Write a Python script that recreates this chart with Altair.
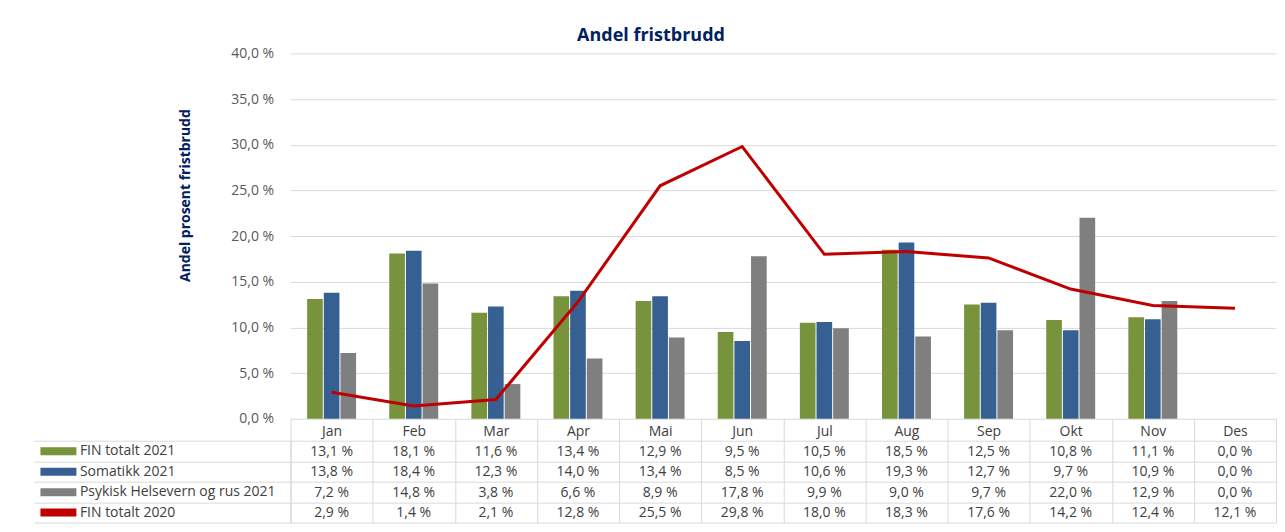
import altair as alt
import pandas as pd

months = ["Jan", "Feb", "Mar", "Apr", "Mai", "Jun", "Jul", "Aug", "Sep", "Okt", "Nov", "Des"]
series_names = ["FIN totalt 2021", "Somatikk 2021", "Psykisk Helsevern og rus 2021", "FIN totalt 2020"]
fin_2021 = [13.1, 18.1, 11.6, 13.4, 12.9, 9.5, 10.5, 18.5, 12.5, 10.8, 11.1, 0.0]
somatikk_2021 = [13.8, 18.4, 12.3, 14.0, 13.4, 8.5, 10.6, 19.3, 12.7, 9.7, 10.9, 0.0]
psyk_2021 = [7.2, 14.8, 3.8, 6.6, 8.9, 17.8, 9.9, 9.0, 9.7, 22.0, 12.9, 0.0]
fin_2020 = [2.9, 1.4, 2.1, 12.8, 25.5, 29.8, 18.0, 18.3, 17.6, 14.2, 12.4, 12.1]
series_colors = ["#77933C", "#376092", "#7F7F7F", "#C00000"]
y_ticks = [0, 5, 10, 15, 20, 25, 30, 35, 40]

rows = []
for name, vals in zip(series_names, [fin_2021, somatikk_2021, psyk_2021, fin_2020]):
    for m, v in zip(months, vals):
        rows.append({"series": name, "month": m, "value": v,
                     "label": f"{v:.1f} %".replace(".", ",")})
df = pd.DataFrame(rows)
bars_df = df[df.series != "FIN totalt 2020"]
line_df = df[df.series == "FIN totalt 2020"]

FONT = "Open Sans"
GRID = "#D9D9D9"
NAVY = "#002060"
TXT = "#404040"

x_top = alt.X("month:N", sort=months, axis=None,
              scale=alt.Scale(paddingInner=0.404, paddingOuter=0.202))
y_top = alt.Y("value:Q", scale=alt.Scale(domain=[0, 40]),
              axis=alt.Axis(values=y_ticks,
                            labelExpr="replace(format(datum.value, '.1f'), '.', ',') + ' %'",
                            grid=True, gridColor=GRID, domain=False, ticks=False,
                            labelPadding=17, labelFontSize=14, labelColor="#595959",
                            title="Andel prosent fristbrudd", titleFontSize=14,
                            titleFontWeight="bold", titleColor=NAVY,
                            titleX=-105, titleY=142, titleAlign="center",
                            titleBaseline="middle", titleAngle=270))

bars = alt.Chart(bars_df).mark_bar().encode(
    x=x_top,
    xOffset=alt.XOffset("series:N", sort=series_names[:3],
                        scale=alt.Scale(paddingInner=0.06, paddingOuter=0)),
    y=y_top,
    color=alt.Color("series:N",
                    scale=alt.Scale(domain=series_names, range=series_colors),
                    legend=alt.Legend(orient="none", legendX=-239.5, legendY=391.5,
                                      title=None, padding=0,
                                      symbolType="M-4.5,-1H4.5V1H-4.5Z", symbolSize=64,
                                      symbolStrokeWidth=0, symbolOpacity=1,
                                      labelOffset=14.5, labelFontSize=14,
                                      labelColor=TXT, labelLimit=400,
                                      rowPadding=6.5)),
)

line = alt.Chart(line_df).mark_line(color="#C00000", strokeWidth=3).encode(
    x=x_top, y=y_top)

top = alt.layer(bars, line).properties(width=987, height=366)

table_x = alt.X("month:N", sort=months,
                scale=alt.Scale(paddingInner=0, paddingOuter=0),
                axis=alt.Axis(orient="top", title=None, tickBand="extent", tickSize=22,
                              tickColor=GRID, domain=False, grid=True, gridColor=GRID,
                              labelPadding=-13, labelBaseline="middle", labelAngle=0,
                              labelFontSize=14, labelColor=TXT))
table_y = alt.Y("series:N", sort=series_names,
                scale=alt.Scale(paddingInner=0, paddingOuter=0),
                axis=alt.Axis(title=None, labels=False, tickBand="extent", tickSize=257,
                              tickColor=GRID, domain=False, grid=True, gridColor=GRID))
table_y2 = alt.Y("series:N", sort=series_names,
                 scale=alt.Scale(paddingInner=0, paddingOuter=0),
                 axis=alt.Axis(title=None, labels=False, ticks=False, orient="left",
                               domain=True, domainColor=GRID, grid=False))

table_text = alt.Chart(df).mark_text(fontSize=14, color=TXT, dy=1).encode(
    x=table_x, y=table_y, text="label:N")
table_border = alt.Chart(df).mark_text(fontSize=14, opacity=0).encode(
    x=table_x, y=table_y2, text="label:N")
table = alt.layer(table_text, table_border).resolve_axis(y="independent").properties(
    width=987, height=82)

chart = alt.vconcat(top, table, spacing=22, bounds="flush").resolve_scale(
    x="independent", y="independent", color="independent"
).resolve_legend(color="independent").properties(
    title=alt.Title("Andel fristbrudd", fontSize=18, fontWeight="bold", color=NAVY,
                    anchor="middle", offset=1, dx=-4),
    padding={"left": 25, "top": 19, "right": 0, "bottom": 0},
).configure(font=FONT).configure_view(stroke=None)

chart.save("out.html", embed_options={"renderer": "svg", "actions": False})
